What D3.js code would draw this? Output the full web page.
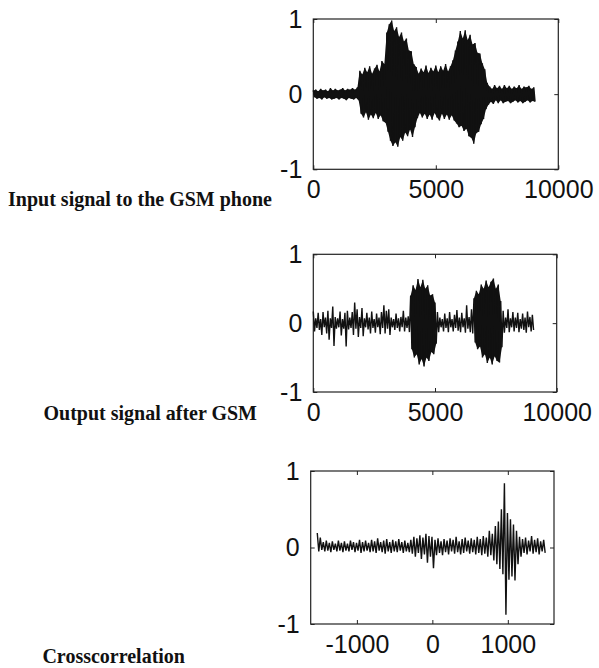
<!DOCTYPE html>
<html>
<head>
<meta charset="utf-8">
<style>
    body
    {
        margin:0;
        background:#fff;
    }
    .tick text
    {
        font-family:"Liberation Sans", Arial, sans-serif;
        font-size:25px;
        fill:#111;
    }
    .caption
    {
        font-family:"Liberation Serif", "Times New Roman", serif;
        font-weight:bold;
        font-size:20px;
        fill:#111;
    }
</style>
<script type="text/javascript" src="https://d3js.org/d3.v7.min.js"></script>
</head>
<body>
<svg id="chart"></svg>
<script>
    // envelope of each waveform: hi at x, lo at x + step/2
    var inputStart = 0, inputStep = 100;
    var inputHi = [0.05,0.06,0.04,0.07,0.05,0.06,0.04,0.08,0.05,0.07,
        0.05,0.06,0.08,0.05,0.07,0.06,0.08,0.06,0.09,0.31,
        0.26,0.35,0.29,0.37,0.27,0.34,0.39,0.30,0.44,0.40,
        0.82,0.93,0.98,0.84,0.89,0.76,0.82,0.70,0.74,0.58,
        0.57,0.40,0.36,0.27,0.34,0.29,0.38,0.28,0.35,0.30,
        0.38,0.29,0.37,0.31,0.40,0.30,0.37,0.45,0.58,0.70,
        0.84,0.74,0.85,0.72,0.79,0.66,0.68,0.55,0.54,0.41,
        0.33,0.15,0.10,0.07,0.12,0.08,0.11,0.07,0.12,0.08,
        0.11,0.07,0.10,0.08,0.12,0.07,0.10,0.09,0.11,0.07,
        0.09];
    var inputLo = [-0.04,-0.06,-0.05,-0.07,-0.04,-0.06,-0.05,-0.07,-0.06,-0.05,
        -0.07,-0.05,-0.06,-0.08,-0.05,-0.06,-0.07,-0.05,-0.08,-0.26,
        -0.31,-0.24,-0.34,-0.27,-0.32,-0.25,-0.33,-0.28,-0.36,-0.38,
        -0.50,-0.62,-0.69,-0.64,-0.70,-0.57,-0.62,-0.51,-0.56,-0.47,
        -0.57,-0.44,-0.32,-0.25,-0.31,-0.26,-0.33,-0.27,-0.34,-0.25,
        -0.31,-0.35,-0.26,-0.33,-0.27,-0.34,-0.28,-0.35,-0.39,-0.44,
        -0.42,-0.49,-0.46,-0.56,-0.58,-0.66,-0.52,-0.50,-0.40,-0.33,
        -0.20,-0.14,-0.10,-0.13,-0.08,-0.12,-0.08,-0.12,-0.10,-0.09,
        -0.12,-0.10,-0.08,-0.11,-0.09,-0.12,-0.10,-0.08,-0.11,-0.09,
        -0.10];

    var outputStart = 0, outputStep = 100;
    var outputHi = [0.17,0.07,0.15,0.06,0.16,0.08,0.18,0.07,0.24,0.09,
        0.07,0.17,0.06,0.15,0.18,0.08,0.16,0.30,0.20,0.09,
        0.22,0.07,0.15,0.08,0.17,0.06,0.14,0.08,0.16,0.26,
        0.18,0.20,0.08,0.06,0.14,0.07,0.09,0.18,0.08,0.10,
        0.40,0.55,0.48,0.64,0.52,0.63,0.50,0.55,0.40,0.42,
        0.30,0.16,0.08,0.06,0.14,0.07,0.16,0.06,0.12,0.19,
        0.08,0.15,0.07,0.26,0.09,0.20,0.36,0.47,0.42,0.56,
        0.50,0.62,0.52,0.60,0.65,0.50,0.56,0.32,0.18,0.08,
        0.20,0.07,0.16,0.08,0.15,0.06,0.14,0.08,0.17,0.09,
        0.12];
    var outputLo = [-0.12,-0.07,-0.10,-0.17,-0.06,-0.15,-0.24,-0.07,-0.33,-0.08,
        -0.06,-0.18,-0.08,-0.34,-0.09,-0.07,-0.17,-0.08,-0.20,-0.07,
        -0.19,-0.06,-0.09,-0.15,-0.07,-0.14,-0.06,-0.16,-0.07,-0.15,
        -0.08,-0.17,-0.06,-0.10,-0.07,-0.12,-0.06,-0.12,-0.07,-0.13,
        -0.38,-0.50,-0.45,-0.60,-0.52,-0.63,-0.50,-0.55,-0.42,-0.45,
        -0.30,-0.13,-0.06,-0.12,-0.07,-0.13,-0.06,-0.12,-0.07,-0.11,
        -0.13,-0.06,-0.14,-0.08,-0.13,-0.15,-0.28,-0.38,-0.34,-0.50,
        -0.45,-0.58,-0.50,-0.60,-0.48,-0.55,-0.57,-0.35,-0.14,-0.07,
        -0.13,-0.06,-0.12,-0.07,-0.13,-0.08,-0.10,-0.14,-0.06,-0.12,
        -0.10];

    var xcorrStart = -1525, xcorrStep = 40;
    var xcorrHi = [0.19,0.13,0.07,0.09,0.06,0.08,0.05,0.09,0.06,0.08,
        0.05,0.09,0.07,0.06,0.10,0.07,0.09,0.06,0.10,0.08,
        0.12,0.07,0.09,0.11,0.07,0.10,0.08,0.11,0.07,0.09,
        0.06,0.10,0.14,0.12,0.16,0.13,0.18,0.15,0.14,0.10,
        0.12,0.08,0.11,0.09,0.12,0.10,0.14,0.08,0.11,0.13,
        0.09,0.12,0.10,0.14,0.11,0.15,0.13,0.22,0.18,0.28,
        0.34,0.50,0.84,0.45,0.37,0.30,0.22,0.14,0.11,0.13,
        0.09,0.15,0.10,0.12,0.08,0.10];
    var xcorrLo = [-0.05,-0.03,-0.05,-0.04,-0.06,-0.03,-0.05,-0.04,-0.06,-0.04,
        -0.05,-0.03,-0.06,-0.04,-0.07,-0.05,-0.04,-0.06,-0.05,-0.07,
        -0.04,-0.06,-0.08,-0.05,-0.07,-0.05,-0.06,-0.04,-0.07,-0.05,
        -0.06,-0.08,-0.12,-0.07,-0.15,-0.09,-0.20,-0.12,-0.27,-0.10,
        -0.07,-0.10,-0.06,-0.09,-0.05,-0.08,-0.06,-0.09,-0.07,-0.05,
        -0.08,-0.06,-0.09,-0.07,-0.10,-0.08,-0.12,-0.10,-0.17,-0.22,
        -0.28,-0.35,-0.88,-0.42,-0.38,-0.43,-0.22,-0.12,-0.07,-0.09,
        -0.05,-0.08,-0.06,-0.09,-0.05,-0.07];

    var sampleTicks = [0,5000,10000];
    var lagTicks = [-1000,0,1000];
    var ampTicks = [-1,0,1];
    var captions = ["Input signal to the GSM phone","Output signal after GSM","Crosscorrelation"];

    var screen = {width:599,height:668};

    var svg = d3.select("#chart")
        .attr("width",screen.width)
        .attr("height",screen.height);

    // fillMin: only solid-fill where the spread hi-lo is at least this (dense bursts)
    var panels = [
        {hi:inputHi, lo:inputLo, start:inputStart, step:inputStep, xDomain:[0,10000], xTicks:sampleTicks, fillMin:0,
            caption:captions[0], box:{left:313.3,right:558.3,top:19,bottom:169.3}, capX:272, capY:206},
        {hi:outputHi, lo:outputLo, start:outputStart, step:outputStep, xDomain:[0,10000], xTicks:sampleTicks, fillMin:0.6,
            caption:captions[1], box:{left:313.3,right:556.7,top:254.3,bottom:392}, capX:257, capY:420},
        {hi:xcorrHi, lo:xcorrLo, start:xcorrStart, step:xcorrStep, xDomain:[-1612,1612], xTicks:lagTicks, fillMin:null,
            caption:captions[2], box:{left:310.7,right:554,top:471,bottom:624}, capX:185, capY:663}
    ];

    var zigzag = function(p)
    {
        var pts = [];
        p.hi.forEach(function(h,i)
        {
            pts.push([p.start + p.step*i, h]);
            pts.push([p.start + p.step*i + p.step/2, p.lo[i]]);
        });
        return pts;
    }

    var drawPanel = function(p)
    {
        var b = p.box;
        var xScale = d3.scaleLinear().domain(p.xDomain).range([b.left,b.right]);
        var yScale = d3.scaleLinear().domain([-1,1]).range([b.bottom,b.top]);
        var g = svg.append("g").style("color","#222");

        g.append("g")
            .attr("transform","translate(0,"+b.bottom+")")
            .call(d3.axisBottom(xScale).tickValues(p.xTicks).tickSizeInner(-4).tickSizeOuter(0)
                .tickPadding(11).tickFormat(function(d){return String(d);}));
        g.append("g")
            .attr("transform","translate(0,"+b.top+")")
            .call(d3.axisTop(xScale).tickValues(p.xTicks).tickSizeInner(-4).tickSizeOuter(0).tickFormat(""));
        g.append("g")
            .attr("transform","translate("+b.left+",0)")
            .call(d3.axisLeft(yScale).tickValues(ampTicks).tickSizeInner(-4).tickSizeOuter(0)
                .tickPadding(11).tickFormat(function(d){return String(d);}));
        g.append("g")
            .attr("transform","translate("+b.right+",0)")
            .call(d3.axisRight(yScale).tickValues(ampTicks).tickSizeInner(-4).tickSizeOuter(0).tickFormat(""));
        g.selectAll(".domain").remove();

        g.append("rect")
            .attr("x",b.left).attr("y",b.top)
            .attr("width",b.right-b.left).attr("height",b.bottom-b.top)
            .attr("fill","none").attr("stroke","#222").attr("stroke-width",1.2);

        if (p.fillMin !== null)
        {
            var area = d3.area()
                .defined(function(d,i){return d - p.lo[i] >= p.fillMin;})
                .x1(function(d,i){return xScale(p.start + p.step*i);})
                .y1(function(d){return yScale(d);})
                .x0(function(d,i){return xScale(p.start + p.step*i + p.step/2);})
                .y0(function(d,i){return yScale(p.lo[i]);});
            g.append("path")
                .datum(p.hi)
                .attr("d",area)
                .attr("fill","#111");
        }

        var line = d3.line()
            .x(function(d){return xScale(d[0]);})
            .y(function(d){return yScale(d[1]);});
        g.append("path")
            .datum(zigzag(p))
            .attr("d",line)
            .attr("fill","none")
            .attr("stroke","#111")
            .attr("stroke-width",1.4);

        svg.append("text")
            .attr("class","caption")
            .attr("x",p.capX).attr("y",p.capY)
            .attr("text-anchor","end")
            .text(p.caption);
    }

    panels.forEach(drawPanel);
</script>
</body>
</html>
